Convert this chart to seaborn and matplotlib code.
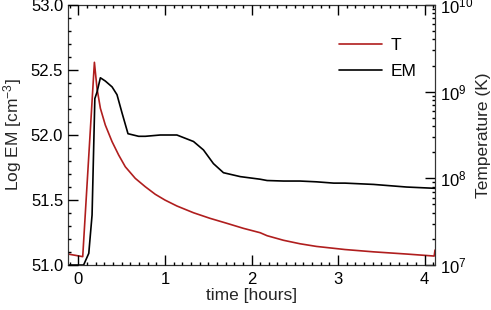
import numpy as np
import pandas as pd
import seaborn as sns
import matplotlib.pyplot as plt
from matplotlib.ticker import MultipleLocator, LogLocator

# ---- data ----
time_em = [-0.12, 0.06, 0.12, 0.158, 0.19, 0.215, 0.254, 0.311, 0.389, 0.446, 0.504, 0.573,
           0.696, 0.773, 0.946, 1.138, 1.33, 1.445, 1.56, 1.676, 1.87, 2.1, 2.18, 2.37, 2.56,
           2.75, 2.95, 3.08, 3.41, 3.79, 4.12]
log_em = [51.0, 51.0, 51.09, 51.385, 52.28, 52.33, 52.44, 52.415, 52.37, 52.31, 52.17, 52.01,
          51.99, 51.99, 52.0, 52.0, 51.95, 51.885, 51.78, 51.71, 51.68, 51.66, 51.65, 51.646,
          51.646, 51.64, 51.63, 51.63, 51.62, 51.60, 51.59]

time_t = [-0.12, 0.05, 0.185, 0.215, 0.254, 0.311, 0.389, 0.465, 0.542, 0.657, 0.773, 0.888,
          1.0, 1.138, 1.33, 1.52, 1.715, 1.907, 2.1, 2.18, 2.37, 2.56, 2.75, 2.95, 3.08, 3.41,
          3.79, 4.11, 4.12]
temp_k = [1.34e7, 1.25e7, 2.18e9, 1.09e9, 6.43e8, 4.12e8, 2.65e8, 1.86e8, 1.36e8, 1.0e8,
          8.0e7, 6.55e7, 5.62e7, 4.80e7, 4.01e7, 3.46e7, 3.03e7, 2.65e7, 2.36e7, 2.18e7,
          1.93e7, 1.76e7, 1.64e7, 1.56e7, 1.51e7, 1.42e7, 1.34e7, 1.27e7, 1.49e7]

em_df = pd.DataFrame({"time": time_em, "em": log_em})
t_df = pd.DataFrame({"time": time_t, "T": temp_k})

# ---- style (IDL look: inward ticks on every side) ----
fs = 12.5
sns.set_style("ticks", rc={
    "xtick.direction": "in", "ytick.direction": "in",
    "xtick.major.size": 7, "xtick.minor.size": 3.5, "ytick.major.size": 7, "ytick.minor.size": 3.5,
    "xtick.major.width": 1.0, "xtick.minor.width": 1.0,
    "ytick.major.width": 1.0, "ytick.minor.width": 1.0,
    "xtick.color": "black", "ytick.color": "black",
    "axes.edgecolor": "#333333", "axes.linewidth": 0.9, "axes.axisbelow": False,
})
plt.rcParams["font.family"] = ["Liberation Sans", "DejaVu Sans"]
plt.rcParams["mathtext.fontset"] = "custom"
plt.rcParams["mathtext.rm"] = "Liberation Sans"
plt.rcParams["mathtext.it"] = "Liberation Sans:italic"
plt.rcParams["text.color"] = "black"
red = "#b01e1e"

fig = plt.figure(figsize=(4.91, 3.10), dpi=100)
ax = fig.add_axes([0.1385, 0.145, 0.7475, 0.839])
ax2 = ax.twinx()
ax.set_zorder(ax2.get_zorder() + 1)
ax.patch.set_visible(False)

sns.lineplot(data=em_df, x="time", y="em", ax=ax, color="black", lw=1.2, label="EM", legend=False)
sns.lineplot(data=t_df, x="time", y="T", ax=ax2, color=red, lw=1.2, label="T", legend=False)

ax.set_xlim(-0.12, 4.12)
ax.set_ylim(51.0, 53.0)
ax2.set_yscale("log")
ax2.set_ylim(1e7, 1e10)

ax.xaxis.set_major_locator(MultipleLocator(1))
ax.xaxis.set_minor_locator(MultipleLocator(0.1))
ax.yaxis.set_major_locator(MultipleLocator(0.5))
ax.yaxis.set_minor_locator(MultipleLocator(0.1))
ax.yaxis.set_major_formatter(plt.FormatStrFormatter("%.1f"))
ax2.yaxis.set_minor_locator(LogLocator(subs=np.arange(2, 10)))

ax.set_xlabel("time [hours]", fontsize=fs, labelpad=1)
ax.set_ylabel("Log EM [cm$^{-3}$]", fontsize=fs, labelpad=5)
ax2.set_ylabel("Temperature (K)", fontsize=fs, labelpad=2)

# legend: T first, then EM
h2, l2 = ax2.get_legend_handles_labels()
h1, l1 = ax.get_legend_handles_labels()
ax.legend(h2 + h1, l2 + l1, loc="upper left", bbox_to_anchor=(0.658, 0.928),
          bbox_transform=fig.transFigure, frameon=False, fontsize=fs,
          handlelength=2.5, handletextpad=0.5, labelspacing=0.6)

ax.tick_params(axis="x", which="both", direction="in", bottom=True, top=True,
               color="black", width=1.0, labelsize=fs - 0.5)
ax.tick_params(axis="x", which="major", pad=5, length=7)
ax.tick_params(axis="y", which="both", direction="in", left=True, right=False,
               color="black", width=1.0, labelsize=fs - 0.5)
ax.tick_params(axis="y", which="major", length=7)
ax2.tick_params(axis="y", which="both", direction="in", left=False, right=True,
                color="black", width=1.0, labelsize=fs - 0.5)
ax2.tick_params(axis="y", which="major", length=7)

fig.savefig("out.png", dpi=100)
